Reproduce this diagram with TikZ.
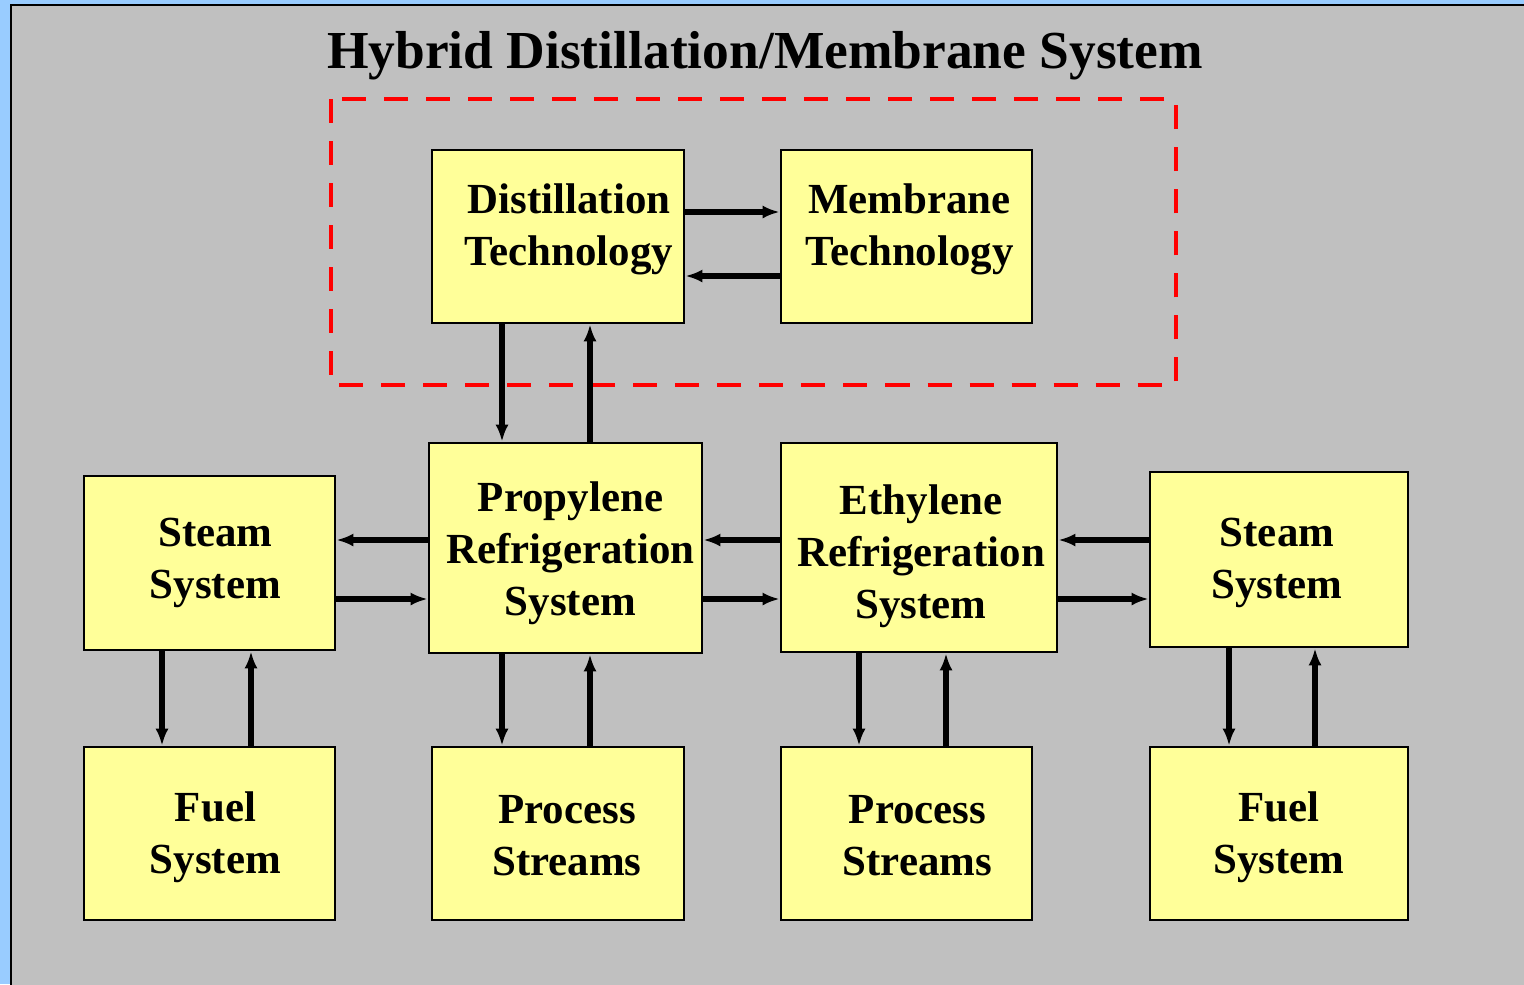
\documentclass[tikz,border=0pt]{standalone}
\usepackage{fontspec}
\setmainfont{Liberation Serif}
\usetikzlibrary{arrows.meta}

\definecolor{panelblue}{HTML}{99CCFF}
\definecolor{panelgray}{HTML}{C0C0C0}
\definecolor{boxyellow}{HTML}{FFFF99}

\begin{document}
\begin{tikzpicture}[x=0.01cm, y=-0.01cm,
    block/.style={rectangle, draw, line width=0.7pt, fill=boxyellow, inner sep=0pt},
    txt/.style={align=center, inner sep=0pt, font=\fontsize{12.2}{14.8}\selectfont\bfseries},
    flow/.style={line width=1.6pt, -{Latex[length=1.7mm, width=1.3mm]}}]
  % background
  \useasboundingbox (0,0) rectangle (1524,984);
  \fill[panelblue] (0,0) rectangle (1524,984);
  \begin{scope}
    \clip (0,0) rectangle (1524,984);
    \draw[fill=panelgray, line width=0.7pt] (11,5) rectangle (1540,1000);
  \end{scope}
  \node[anchor=base, font=\fontsize{15.2}{18}\selectfont\bfseries] (title) at (765,68)
    {Hybrid Distillation/Membrane System};
  \draw[red, line width=1.4pt, dash pattern=on 0.24cm off 0.18cm] (331,99) rectangle (1176,385);

  % boxes
  \node[block, minimum width=2.52cm, minimum height=1.73cm,
    label={[txt, shift={(11,-7)}]center:{Distillation\\Technology}}] (dist) at (558,236.5) {};
  \node[block, minimum width=2.51cm, minimum height=1.73cm,
    label={[txt, shift={(3,-7)}]center:{Membrane\\Technology}}] (memb) at (906.5,236.5) {};
  \node[block, minimum width=2.73cm, minimum height=2.10cm,
    label={[txt, shift={(5,5)}]center:{Propylene\\Refrigeration\\System}}] (prop) at (565.5,548) {};
  \node[block, minimum width=2.76cm, minimum height=2.09cm,
    label={[txt, shift={(2,9)}]center:{Ethylene\\Refrigeration\\System}}] (eth) at (919,547.5) {};
  \node[block, minimum width=2.51cm, minimum height=1.74cm,
    label={[txt, shift={(6,0)}]center:{Steam\\System}}] (steamL) at (209.5,563) {};
  \node[block, minimum width=2.58cm, minimum height=1.75cm,
    label={[txt, shift={(-2,3)}]center:{Steam\\System}}] (steamR) at (1279,559.5) {};
  \node[block, minimum width=2.51cm, minimum height=1.73cm,
    label={[txt, shift={(6,4)}]center:{Fuel\\System}}] (fuelL) at (209.5,833.5) {};
  \node[block, minimum width=2.52cm, minimum height=1.73cm,
    label={[txt, shift={(9,2)}]center:{Process\\Streams}}] (proc1) at (558,833.5) {};
  \node[block, minimum width=2.51cm, minimum height=1.73cm,
    label={[txt, shift={(11,2)}]center:{Process\\Streams}}] (proc2) at (906.5,833.5) {};
  \node[block, minimum width=2.58cm, minimum height=1.73cm,
    label={[txt, shift={(0,4)}]center:{Fuel\\System}}] (fuelR) at (1279,833.5) {};

  % connectors
  \draw[flow] (dist.east |- 0,212) -- (memb.west |- 0,212);
  \draw[flow] (memb.west |- 0,276) -- (dist.east |- 0,276);
  \draw[flow] (dist.south -| 502,0) -- (prop.north -| 502,0);
  \draw[flow] (prop.north -| 590,0) -- (dist.south -| 590,0);

  \draw[flow] (prop.west |- 0,540) -- (steamL.east |- 0,540);
  \draw[flow] (steamL.east |- 0,599) -- (prop.west |- 0,599);
  \draw[flow] (eth.west |- 0,540) -- (prop.east |- 0,540);
  \draw[flow] (prop.east |- 0,599) -- (eth.west |- 0,599);
  \draw[flow] (steamR.west |- 0,540) -- (eth.east |- 0,540);
  \draw[flow] (eth.east |- 0,599) -- (steamR.west |- 0,599);

  \draw[flow] (steamL.south -| 162,0) -- (fuelL.north -| 162,0);
  \draw[flow] (fuelL.north -| 251,0) -- (steamL.south -| 251,0);
  \draw[flow] (prop.south -| 502,0) -- (proc1.north -| 502,0);
  \draw[flow] (proc1.north -| 590,0) -- (prop.south -| 590,0);
  \draw[flow] (eth.south -| 859,0) -- (proc2.north -| 859,0);
  \draw[flow] (proc2.north -| 946,0) -- (eth.south -| 946,0);
  \draw[flow] (steamR.south -| 1229,0) -- (fuelR.north -| 1229,0);
  \draw[flow] (fuelR.north -| 1315,0) -- (steamR.south -| 1315,0);
\end{tikzpicture}
\end{document}
